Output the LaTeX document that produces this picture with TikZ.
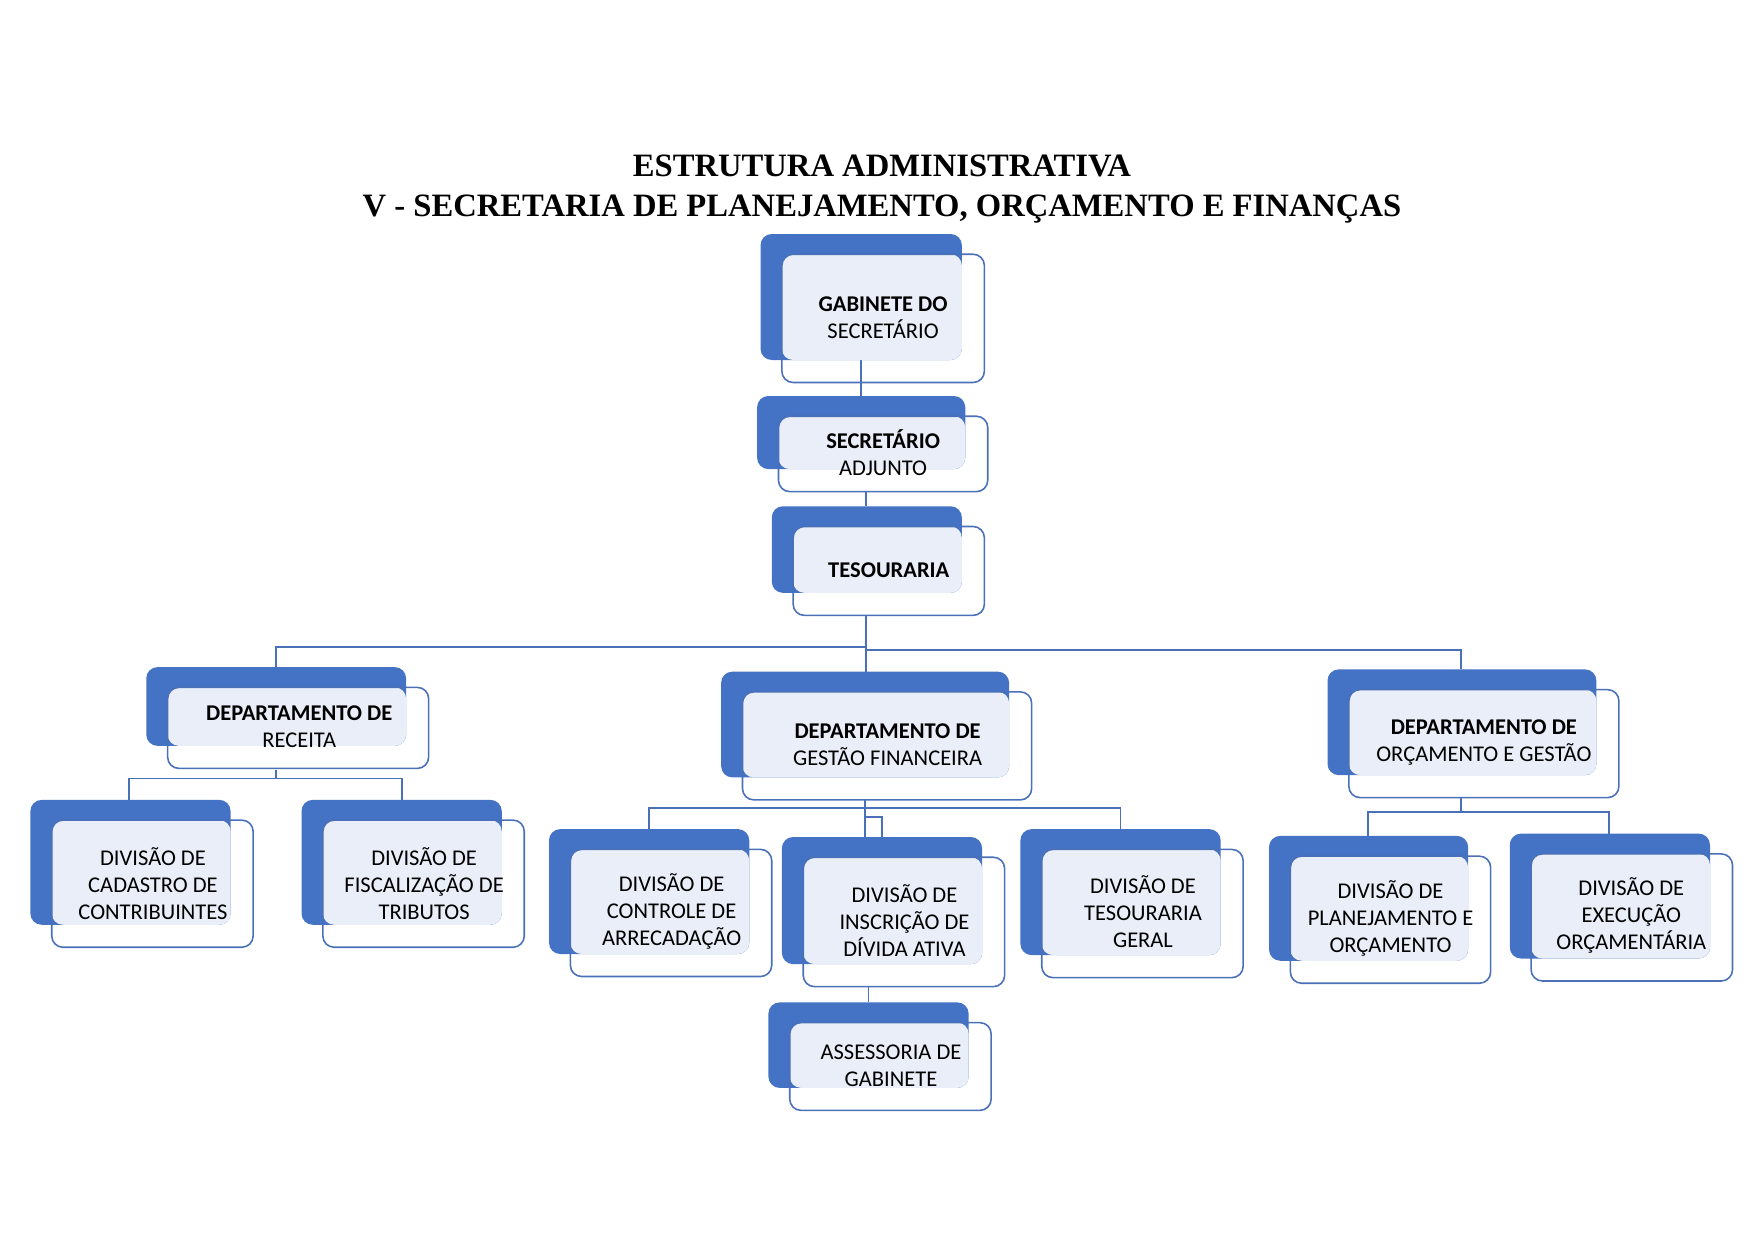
\documentclass[tikz,border=0pt]{standalone}
\usepackage{fontspec}
\setmainfont{Carlito}
\newfontfamily\titlefont{Liberation Serif}
\definecolor{dk}{HTML}{4472C4}
\definecolor{lt}{HTML}{E9EEF8}
\definecolor{ln}{HTML}{4A70B8}
\newcommand\obox[8]{%
 \fill[dk,rounded corners=5] (#2,#3) rectangle (#4,#5);
 \fill[lt,rounded corners=5] (#2+19,#3+18) rectangle (#4,#5);
 \draw[ln,line width=0.7pt,rounded corners=5] (#2+19,#3+18) rectangle (#4+20,#5+20);
 \node[txt] (#1) at (#6) {#7#8};}
\begin{document}
\begin{tikzpicture}[x=0.5pt,y=-0.5pt,
 txt/.style={align=center,font=\fontsize{10}{12}\selectfont,text=black,inner sep=0},
 c/.style={draw=ln,line width=0.8pt}]
\useasboundingbox (0,0) rectangle (1560,1103);
\node[font=\titlefont\bfseries\fontsize{14.5}{17.5}\selectfont,align=center] (title) at (784,168) {ESTRUTURA ADMINISTRATIVA\\V - SECRETARIA DE PLANEJAMENTO, ORÇAMENTO E FINANÇAS};
% connectors
\draw[c] (765,320) -- (765,352);
\draw[c] (770,437) -- (770,450);
\draw[c] (770,547) -- (770,576);
\draw[c] (245,593) -- (245,575) -- (770,575) -- (770,597);
\draw[c] (770,578) -- (1299,578) -- (1299,595);
\draw[c] (245,684) -- (245,692); \draw[c] (115,711) -- (115,692) -- (357,692) -- (357,711);
\draw[c] (769,711) -- (769,744); \draw[c] (577,737) -- (577,718) -- (996,718) -- (996,737);
\draw[c] (769,726) -- (784,726) -- (784,744);
\draw[c] (1299,709) -- (1299,722); \draw[c] (1216,743) -- (1216,722) -- (1430,722) -- (1430,741);
\draw[c] (772,876) -- (772,891);
% boxes
\obox{gab}{676}{208}{855}{320}{785,282}{\bfseries}{GABINETE DO\\SECRETÁRIO}
\obox{sec}{673}{352}{858}{417}{785,402}{\bfseries}{SECRETÁRIO\\ADJUNTO}
\obox{tes}{686}{450}{855}{527}{790,507}{\bfseries}{TESOURARIA}
\obox{drec}{130}{593}{361}{663}{266,646}{\bfseries}{DEPARTAMENTO DE\\RECEITA}
\obox{dgf}{641}{597}{897}{691}{789,662}{\bfseries}{DEPARTAMENTO DE\\GESTÃO FINANCEIRA}
\obox{dog}{1180}{595}{1419}{689}{1319,660}{\bfseries}{DEPARTAMENTO DE\\ORÇAMENTO E GESTÃO}
\obox{cad}{27}{711}{205}{822}{136,785}{}{DIVISÃO DE\\CADASTRO DE\\CONTRIBUINTES}
\obox{fis}{268}{711}{446}{822}{377,785}{}{DIVISÃO DE\\FISCALIZAÇÃO DE\\TRIBUTOS}
\obox{con}{488}{737}{666}{848}{597,810}{}{DIVISÃO DE\\CONTROLE DE\\ARRECADAÇÃO}
\obox{ins}{695}{744}{873}{857}{804,818}{}{DIVISÃO DE\\INSCRIÇÃO DE\\DÍVIDA ATIVA}
\obox{tge}{907}{737}{1085}{849}{1016,810}{}{DIVISÃO DE\\TESOURARIA\\GERAL}
\obox{pla}{1128}{743}{1305}{854}{1236,816}{}{DIVISÃO DE\\PLANEJAMENTO E\\ORÇAMENTO}
\obox{exe}{1342}{741}{1520}{852}{1450,814}{}{DIVISÃO DE\\EXECUÇÃO\\ORÇAMENTÁRIA}
\obox{ass}{683}{891}{861}{967}{792,947}{}{ASSESSORIA DE\\GABINETE}
\end{tikzpicture}
\end{document}
